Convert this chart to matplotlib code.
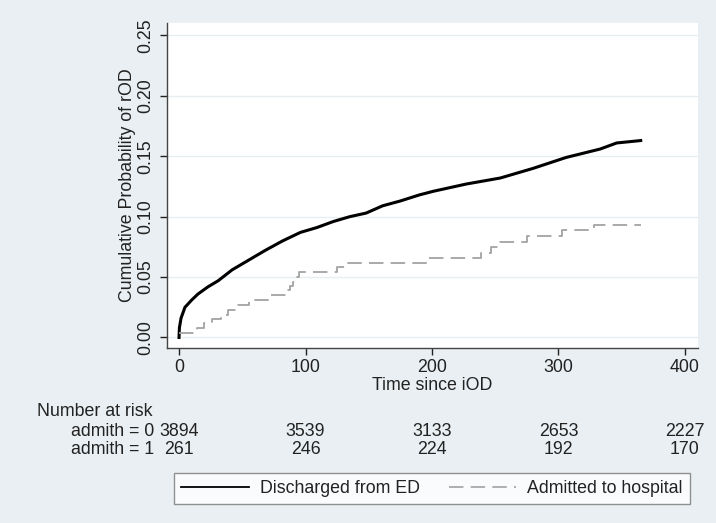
import matplotlib
matplotlib.use("Agg")
import matplotlib.pyplot as plt
from matplotlib.transforms import blended_transform_factory
from matplotlib.lines import Line2D

plt.rcParams['font.family'] = ['Liberation Sans', 'DejaVu Sans']

# ---- data ----
times_dis = [0, 0.3, 1.6, 4.7, 10, 15, 23, 31, 42, 55, 68, 82, 96, 109, 122, 135,
             148, 161, 175, 190, 201, 227, 254, 280, 306, 333, 346, 365]
cum_dis = [0.0, 0.008, 0.016, 0.025, 0.031, 0.036, 0.042, 0.047, 0.056, 0.064,
           0.072, 0.080, 0.087, 0.091, 0.096, 0.100, 0.103, 0.109, 0.113, 0.118,
           0.121, 0.127, 0.132, 0.140, 0.149, 0.156, 0.161, 0.163]

times_adm = [0, 14, 20, 26, 33, 39, 47, 55, 70, 86, 88, 90, 93, 95, 125, 132,
             198, 239, 247, 254, 275, 303, 328, 365]
cum_adm = [0.004, 0.008, 0.012, 0.015, 0.019, 0.023, 0.027, 0.031, 0.035, 0.039,
           0.043, 0.046, 0.050, 0.054, 0.058, 0.062, 0.066, 0.070, 0.075, 0.079,
           0.084, 0.089, 0.093, 0.093]

x_ticks = [0, 100, 200, 300, 400]
y_ticks = [0.00, 0.05, 0.10, 0.15, 0.20, 0.25]
y_tick_labels = ["0.00", "0.05", "0.10", "0.15", "0.20", "0.25"]

risk_times = [0, 100, 200, 300, 400]
risk_0 = [3894, 3539, 3133, 2653, 2227]
risk_1 = [261, 246, 224, 192, 170]
risk_labels = ["admith = 0", "admith = 1"]
series_labels = ["Discharged from ED", "Admitted to hospital"]

# ---- figure ----
W, H = 716, 523
FS = 12.8
TXT = '#222222'
bg = '#e9eff2'
fig = plt.figure(figsize=(W / 100, H / 100), dpi=100, facecolor=bg)
ax = fig.add_axes([167 / W, 1 - 348 / H, (698 - 167) / W, (348 - 23) / H])
ax.set_facecolor('white')

ax.plot(times_dis, cum_dis, color='black', lw=2.2, solid_joinstyle='miter', zorder=3)
ax.plot(times_adm, cum_adm, color='#a3a3a3', lw=1.3, drawstyle='steps-post',
        dashes=(8, 4), zorder=3)

ax.set_xlim(-9.5, 410.3)
ax.set_ylim(-0.0087, 0.2603)
ax.set_xticks(x_ticks)
ax.set_yticks(y_ticks)
ax.set_yticklabels(y_tick_labels, rotation=90, va='center')
ax.tick_params(axis='both', labelsize=FS, colors=TXT, length=5, width=1,
               direction='out')
ax.tick_params(axis='y', pad=4)
ax.tick_params(axis='x', pad=3)
ax.grid(axis='y', color='#e8edf0', lw=1)
ax.set_axisbelow(True)
for s in ['top', 'right']:
    ax.spines[s].set_visible(False)
for s in ['left', 'bottom']:
    ax.spines[s].set_color('#444444')
    ax.spines[s].set_linewidth(1)

ax.set_ylabel("Cumulative Probability of rOD", fontsize=FS, color=TXT, labelpad=1)
ax.set_xlabel("Time since iOD", fontsize=FS, color=TXT, labelpad=1)

# ---- number at risk table ----
tr = blended_transform_factory(ax.transData, fig.transFigure)
fig.text(37 / W, 1 - 412 / H, "Number at risk", fontsize=FS, ha='left', va='center',
         color=TXT)
row_y = [1 - 432 / H, 1 - 450 / H]
for lab, vals, yy in zip(risk_labels, [risk_0, risk_1], row_y):
    fig.text(154 / W, yy, lab, fontsize=FS, ha='right', va='center', color=TXT)
    for t, v in zip(risk_times, vals):
        ax.text(t, yy, str(v), transform=tr, fontsize=FS, ha='center', va='center',
                color=TXT, clip_on=False)

# ---- legend ----
h1 = Line2D([], [], color='black', lw=1.3)
h2 = Line2D([], [], color='#a8a8a8', lw=1.3, dashes=(8, 4))
leg = fig.legend([h1, h2], series_labels, loc='center',
                 bbox_to_anchor=(432 / W, 1 - 488.5 / H), ncol=2, fontsize=FS,
                 frameon=True, fancybox=False, edgecolor='#777777', facecolor='white',
                 handlelength=3.8, handletextpad=0.6, columnspacing=1.65,
                 borderpad=0.4, borderaxespad=0)
leg.get_frame().set_linewidth(1)
for t in leg.get_texts():
    t.set_color(TXT)

fig.savefig("out.png", dpi=100, facecolor=bg)
